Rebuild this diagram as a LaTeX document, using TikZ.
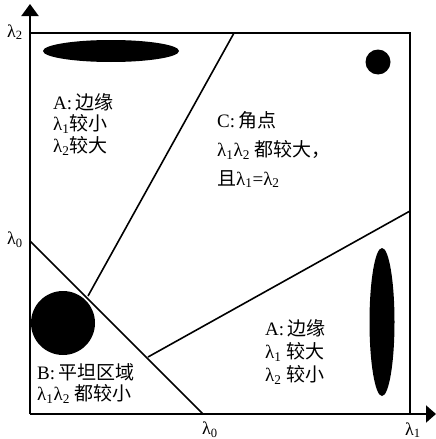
\documentclass[tikz,border=0pt]{standalone}
\usepackage{fontspec}
\setmainfont{Liberation Serif}
\newfontfamily\cjk{Noto Sans CJK SC}
\usetikzlibrary{arrows.meta,shapes.geometric}
\newcommand{\lam}[1]{λ\textsubscript{#1}}
\begin{document}
\begin{tikzpicture}[x=1pt,y=-1pt,
  axis/.style={line width=2pt},
  boxline/.style={line width=1.8pt},
  sep/.style={line width=1.6pt},
  blob/.style={ellipse,fill=black,inner sep=0pt,draw=none},
  txt/.style={anchor=west,inner sep=0pt,font=\fontsize{19}{21}\selectfont},
  tick/.style={inner sep=0pt,font=\fontsize{18}{20}\selectfont}]
\useasboundingbox (0,0) rectangle (436,439);
\coordinate (o) at (30,414);
\coordinate (ytip) at (30,4);
\coordinate (xtip) at (436,414);
\coordinate (tl) at (30,33);
\coordinate (tr) at (410,33);
\coordinate (br) at (410,414);
\coordinate (d1) at (30,241);
\coordinate (d2) at (203,414);
\coordinate (u1) at (234,33);
\coordinate (u2) at (88,296);
\coordinate (r1) at (148,357);
\coordinate (r2) at (410,211);
% axes
\draw[axis,-{Triangle[width=17pt,length=12pt]}] (o) -- (ytip);
\draw[axis,-{Triangle[width=17pt,length=10pt]}] (o) -- (xtip);
\draw[boxline] (tl) -- (tr) -- (br);
% separators
\draw[sep] (d1) -- (d2);
\draw[sep] (u1) -- (u2);
\draw[sep] (r1) -- (r2);
% blobs
\node[blob,minimum width=136pt,minimum height=22pt] (e1) at (111,51) {};
\node[circle,fill=black,inner sep=0pt,minimum size=25pt] (c1) at (378,62) {};
\node[blob,minimum width=25pt,minimum height=148pt] (e2) at (382,322) {};
\node[circle,fill=black,inner sep=0pt,minimum size=64pt] (c2) at (63,323) {};
% tick labels
\node[tick] (l2) at (15,32) {\lam{2}};
\node[tick] (l0a) at (15,240) {\lam{0}};
\node[tick] (l0b) at (210,430) {\lam{0}};
\node[tick] (l1) at (413,430) {\lam{1}};
% region texts
\node[txt] (a1) at (53,102) {A:\,{\cjk 边缘}};
\node[txt] (a2) at (53,124) {\lam{1}{\cjk 较小}};
\node[txt] (a3) at (53,146) {\lam{2}{\cjk 较大}};
\node[txt] (c1t) at (217,120) {C:\,{\cjk 角点}};
\node[txt] (c2t) at (217,150) {\lam{1}\lam{2} {\cjk 都较大，}};
\node[txt] (c3t) at (217,179) {{\cjk 且}\lam{1}=\lam{2}};
\node[txt] (b1) at (265,328) {A:\,{\cjk 边缘}};
\node[txt] (b2) at (265,352) {\lam{1} {\cjk 较大}};
\node[txt] (b3) at (265,375) {\lam{2} {\cjk 较小}};
\node[txt] (f1) at (37,372) {B:\,{\cjk 平坦区域}};
\node[txt] (f2) at (37,394) {\lam{1}\lam{2} {\cjk 都较小}};
\end{tikzpicture}
\end{document}
